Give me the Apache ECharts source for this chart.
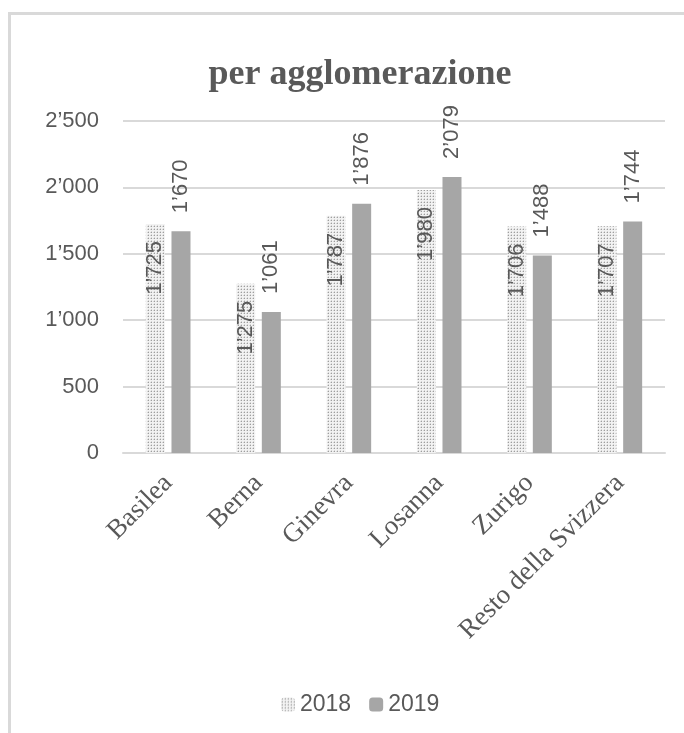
<!DOCTYPE html>
<html>
<head>
<meta charset="utf-8">
<script src="https://cdn.jsdelivr.net/npm/echarts/dist/echarts.min.js"></script>
<style>
  html, body { margin: 0; padding: 0; background: #fff; }
  #frame {
    position: absolute; left: 8px; top: 12px; width: 700px; height: 740px;
    border-left: 3px solid #d9d9d9; border-top: 3px solid #d9d9d9;
  }
  #chart { position: absolute; left: 0; top: 0; width: 684px; height: 733px; }
</style>
</head>
<body>
<div id="frame"></div>
<div id="chart"></div>
<script>
// data
var categories = ["Basilea", "Berna", "Ginevra", "Losanna", "Zurigo", "Resto della Svizzera"];
var years = ["2018", "2019"];
var values2018 = [1725, 1275, 1787, 1980, 1706, 1707];
var values2019 = [1670, 1061, 1876, 2079, 1488, 1744];

var textColor = "#595959";
var numFont = "'Liberation Sans', Arial, sans-serif";
var slabFont = "'Liberation Serif', serif";

// apostrophe as thousands separator, 1'725
function fmt(v) {
  return String(v).replace(/\B(?=(\d{3})+(?!\d))/g, "\u2019");
}

// small dotted pattern for 2018
function dotPattern() {
  var c = document.createElement("canvas");
  c.width = 3;
  c.height = 3;
  var ctx = c.getContext("2d");
  ctx.fillStyle = "#f2f2f2";
  ctx.fillRect(0, 0, 3, 3);
  ctx.fillStyle = "#9e9e9e";
  ctx.fillRect(1, 1, 1, 1);
  ctx.fillStyle = "#d6d6d6";
  ctx.fillRect(1, 0, 1, 1);
  ctx.fillRect(0, 1, 1, 1);
  return c;
}

var chart = echarts.init(document.getElementById("chart"));

chart.setOption({
  animation: false,
  title: {
    text: "per agglomerazione",
    left: 355,
    textAlign: "center",
    top: 52,
    textStyle: {
      fontFamily: slabFont,
      fontWeight: "bold",
      fontSize: 36,
      color: textColor,
    },
  },
  legend: {
    data: years,
    top: 688,
    left: 276,
    itemWidth: 14,
    itemHeight: 14,
    itemGap: 18,
    textStyle: { fontFamily: numFont, fontSize: 23, color: textColor },
  },
  grid: {
    left: 123,
    right: 19,
    top: 121,
    bottom: 280,
  },
  xAxis: {
    type: "category",
    data: categories,
    axisLine: { lineStyle: { color: "#d9d9d9", width: 2 } },
    axisTick: { show: false },
    axisLabel: {
      rotate: 45,
      interval: 0,
      margin: 26,
      fontFamily: slabFont,
      fontSize: 27,
      color: textColor,
    },
  },
  yAxis: {
    type: "value",
    min: 0,
    max: 2500,
    interval: 500,
    axisLine: { show: false },
    axisTick: { show: false },
    splitLine: { lineStyle: { color: "#d9d9d9", width: 2 } },
    axisLabel: {
      margin: 24,
      fontFamily: numFont,
      fontSize: 22,
      color: textColor,
      formatter: fmt,
    },
  },
  series: [
    {
      name: "2018",
      type: "bar",
      data: values2018,
      barWidth: 19,
      barGap: "35%",
      itemStyle: { color: { image: dotPattern(), repeat: "repeat" } },
      label: {
        show: true,
        position: "insideTop",
        rotate: 90,
        align: "right",
        verticalAlign: "middle",
        distance: 17,
        fontFamily: numFont,
        fontSize: 22,
        color: textColor,
        formatter: function (p) { return fmt(p.value); },
      },
    },
    {
      name: "2019",
      type: "bar",
      data: values2019,
      barWidth: 19,
      itemStyle: { color: "#a6a6a6" },
      label: {
        show: true,
        position: "top",
        rotate: 90,
        align: "left",
        verticalAlign: "middle",
        distance: 18,
        fontFamily: numFont,
        fontSize: 22,
        color: textColor,
        formatter: function (p) { return fmt(p.value); },
      },
    },
  ],
});
</script>
</body>
</html>
